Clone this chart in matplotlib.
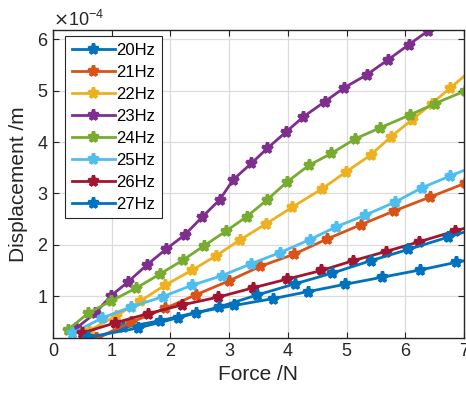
import matplotlib
matplotlib.use('Agg')
import matplotlib.pyplot as plt
from matplotlib.ticker import MultipleLocator, ScalarFormatter
import numpy as np

plt.rcParams['font.family'] = ['Liberation Sans', 'DejaVu Sans']

# force (N) and displacement (x1e-4 m)
f20 = [0.73, 1.20, 1.82, 2.43, 3.09, 3.74, 4.35, 4.97, 5.61, 6.25, 6.87, 7.50]
d20 = [0.18, 0.39, 0.52, 0.68, 0.82, 0.95, 1.09, 1.23, 1.37, 1.51, 1.66, 1.80]

f21 = [0.74, 1.33, 1.91, 2.44, 3.00, 3.53, 4.11, 4.66, 5.24, 5.81, 6.42, 7.02]
d21 = [0.18, 0.49, 0.76, 1.03, 1.30, 1.58, 1.82, 2.11, 2.39, 2.66, 2.93, 3.20]

f22 = [0.62, 1.08, 1.48, 1.90, 2.36, 2.78, 3.19, 3.63, 4.07, 4.58, 4.99, 5.41,
       5.76, 6.12, 6.45, 6.76, 7.10]
d22 = [0.33, 0.62, 0.90, 1.21, 1.50, 1.79, 2.10, 2.41, 2.73, 3.09, 3.42, 3.75,
       4.11, 4.44, 4.75, 5.05, 5.38]

f23 = [0.40, 0.72, 0.98, 1.28, 1.60, 1.93, 2.24, 2.54, 2.84, 3.07, 3.38, 3.65,
       3.96, 4.26, 4.63, 4.96, 5.34, 5.70, 6.06, 6.39]
d23 = [0.38, 0.67, 1.00, 1.28, 1.61, 1.92, 2.19, 2.54, 2.88, 3.27, 3.59, 3.88,
       4.19, 4.49, 4.79, 5.06, 5.31, 5.60, 5.90, 6.17]

f24 = [0.26, 0.60, 0.98, 1.42, 1.82, 2.21, 2.57, 2.95, 3.30, 3.65, 3.98, 4.36,
       4.74, 5.14, 5.57, 6.08, 6.50, 7.02]
d24 = [0.35, 0.67, 0.90, 1.16, 1.43, 1.70, 1.98, 2.27, 2.55, 2.88, 3.22, 3.55,
       3.78, 4.06, 4.28, 4.53, 4.75, 5.00]

f25 = [0.33, 0.83, 1.33, 1.87, 2.36, 2.88, 3.37, 3.87, 4.37, 4.82, 5.32, 5.82,
       6.28, 6.76, 7.24]
d25 = [0.28, 0.57, 0.79, 0.99, 1.21, 1.40, 1.63, 1.85, 2.10, 2.35, 2.58, 2.83,
       3.11, 3.34, 3.56]

f26 = [0.49, 1.06, 1.62, 2.20, 2.81, 3.40, 3.98, 4.57, 5.11, 5.67, 6.24, 6.85, 7.43]
d26 = [0.28, 0.48, 0.66, 0.83, 0.98, 1.16, 1.33, 1.50, 1.69, 1.87, 2.06, 2.27, 2.46]

f27 = [0.60, 1.45, 2.13, 2.83, 3.47, 4.12, 4.76, 5.41, 6.05, 6.73, 7.35]
d27 = [0.20, 0.38, 0.58, 0.79, 1.02, 1.24, 1.45, 1.69, 1.91, 2.15, 2.37]

labels = ['20Hz', '21Hz', '22Hz', '23Hz', '24Hz', '25Hz', '26Hz', '27Hz']
forces = [f20, f21, f22, f23, f24, f25, f26, f27]
disps = [d20, d21, d22, d23, d24, d25, d26, d27]
colors = ['#0072BD', '#D95319', '#EDB120', '#7E2F8E', '#77AC30', '#4DBEEE', '#A2142F', '#0072BD']

fig = plt.figure(figsize=(4.66, 4.01), dpi=100)
ax = fig.add_axes([53 / 466, 1 - 338 / 401, 411 / 466, 308 / 401])

for f, d, c, lab in zip(forces, disps, colors, labels):
    ax.plot(f, np.array(d) * 1e-4, color=c, lw=2.0, marker='*', ms=8, mew=2.4, label=lab)

ax.set_xlim(0, 7)
ax.set_ylim(0.185e-4, 6.185e-4)
ax.xaxis.set_major_locator(MultipleLocator(1))
ax.yaxis.set_major_locator(MultipleLocator(1e-4))
fmt = ScalarFormatter(useMathText=True)
fmt.set_powerlimits((0, 0))
ax.yaxis.set_major_formatter(fmt)
ax.yaxis.get_offset_text().set_fontsize(13)
ax.yaxis.get_offset_text().set_color('#262626')

ax.grid(True, color='#dcdcdc', lw=0.9)
ax.set_axisbelow(True)
ax.tick_params(direction='in', top=True, right=True, length=4, labelsize=13,
               colors='#262626', width=0.8)
for s in ax.spines.values():
    s.set_color('#262626')
    s.set_linewidth(1.0)

ax.set_xlabel('Force /N', fontsize=15, color='#262626', labelpad=4)
ax.set_ylabel('Displacement /m', fontsize=15, color='#262626', labelpad=6)

leg = ax.legend(loc='upper left', bbox_to_anchor=(12 / 411, 1 - 6 / 308), borderaxespad=0,
                fontsize=12, handlelength=2.6, handletextpad=0.05, labelspacing=0.42,
                fancybox=False, framealpha=1, borderpad=0.4)
leg.get_frame().set_edgecolor('#262626')
leg.get_frame().set_linewidth(0.8)

fig.savefig('out.png', dpi=100)
